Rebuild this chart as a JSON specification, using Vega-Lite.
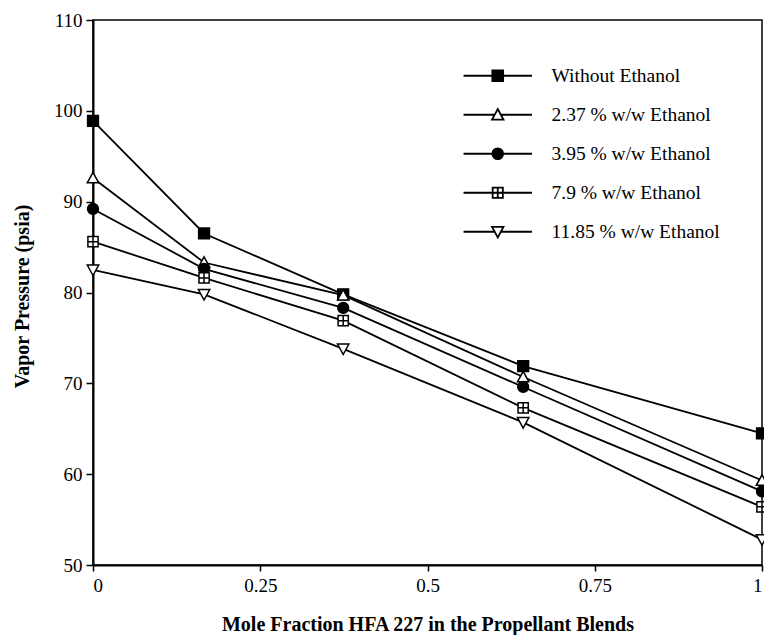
{
  "$schema": "https://vega.github.io/schema/vega-lite/v6.json",
  "width": 669,
  "height": 545,
  "autosize": {"type": "none"},
  "padding": {"left": 93, "top": 20, "right": 2, "bottom": 70},
  "background": "white",
  "config": {
    "font": "Liberation Serif",
    "view": {"stroke": "black", "strokeWidth": 1.5},
    "axis": {
      "domainColor": "black", "domainWidth": 2, "tickColor": "black", "tickWidth": 1.5,
      "grid": false, "labelFont": "Liberation Serif", "labelFontSize": 19, "labelColor": "black",
      "titleFont": "Liberation Serif", "titleFontSize": 20, "titleFontWeight": "bold", "titleColor": "black"
    }
  },
  "data": {"values": [
    {"series": "Without Ethanol", "x": 0, "y": 98.9},
    {"series": "Without Ethanol", "x": 0.166, "y": 86.5},
    {"series": "Without Ethanol", "x": 0.374, "y": 79.8},
    {"series": "Without Ethanol", "x": 0.643, "y": 71.9},
    {"series": "Without Ethanol", "x": 1, "y": 64.5},
    {"series": "2.37 % w/w Ethanol", "x": 0, "y": 92.6},
    {"series": "2.37 % w/w Ethanol", "x": 0.166, "y": 83.3},
    {"series": "2.37 % w/w Ethanol", "x": 0.374, "y": 79.7},
    {"series": "2.37 % w/w Ethanol", "x": 0.643, "y": 70.7},
    {"series": "2.37 % w/w Ethanol", "x": 1, "y": 59.3},
    {"series": "3.95 % w/w Ethanol", "x": 0, "y": 89.2},
    {"series": "3.95 % w/w Ethanol", "x": 0.166, "y": 82.6},
    {"series": "3.95 % w/w Ethanol", "x": 0.374, "y": 78.3},
    {"series": "3.95 % w/w Ethanol", "x": 0.643, "y": 69.6},
    {"series": "3.95 % w/w Ethanol", "x": 1, "y": 58.1},
    {"series": "7.9 % w/w Ethanol", "x": 0, "y": 85.6},
    {"series": "7.9 % w/w Ethanol", "x": 0.166, "y": 81.6},
    {"series": "7.9 % w/w Ethanol", "x": 0.374, "y": 76.9},
    {"series": "7.9 % w/w Ethanol", "x": 0.643, "y": 67.3},
    {"series": "7.9 % w/w Ethanol", "x": 1, "y": 56.4},
    {"series": "11.85 % w/w Ethanol", "x": 0, "y": 82.5},
    {"series": "11.85 % w/w Ethanol", "x": 0.166, "y": 79.8},
    {"series": "11.85 % w/w Ethanol", "x": 0.374, "y": 73.8},
    {"series": "11.85 % w/w Ethanol", "x": 0.643, "y": 65.7},
    {"series": "11.85 % w/w Ethanol", "x": 1, "y": 52.8}
  ]},
  "encoding": {
    "x": {"field": "x", "type": "quantitative",
      "scale": {"domain": [0, 1], "nice": false, "zero": false},
      "axis": {"values": [0, 0.25, 0.5, 0.75, 1], "format": ".2~f", "tickSize": 6, "labelPadding": 5,
        "title": "Mole Fraction HFA 227 in the Propellant Blends", "titleY": 59, "titleBaseline": "middle"}},
    "y": {"field": "y", "type": "quantitative",
      "scale": {"domain": [50, 110], "nice": false, "zero": false},
      "axis": {"values": [50, 60, 70, 80, 90, 100, 110], "tickSize": 7, "labelPadding": 4,
        "title": "Vapor Pressure (psia)", "titleX": -71, "titleY": 276, "titleBaseline": "middle"}}
  },
  "layer": [
    {"mark": {"type": "line", "color": "black", "strokeWidth": 1.8},
     "encoding": {"detail": {"field": "series"}}},
    {"mark": {"type": "point", "filled": true, "stroke": "black", "strokeWidth": 1.5, "size": 144, "opacity": 1},
     "encoding": {
       "shape": {"field": "series", "legend": null,
         "scale": {"domain": ["Without Ethanol", "2.37 % w/w Ethanol", "3.95 % w/w Ethanol", "7.9 % w/w Ethanol", "11.85 % w/w Ethanol"],
           "range": ["M-0.9,-0.9H0.9V0.9H-0.9Z", "M0,-0.95L0.95,0.8L-0.95,0.8Z", "M0.9,0A0.9,0.9,0,1,1,-0.9,0A0.9,0.9,0,1,1,0.9,0Z", "M-0.85,-0.85H0.85V0.85H-0.85ZM0,-0.85V0.85M-0.85,0H0.85", "M0,0.95L0.95,-0.8L-0.95,-0.8Z"]}},
       "fill": {"field": "series", "legend": null,
         "scale": {"domain": ["Without Ethanol", "2.37 % w/w Ethanol", "3.95 % w/w Ethanol", "7.9 % w/w Ethanol", "11.85 % w/w Ethanol"],
           "range": ["black", "white", "black", "white", "white"]}}
     }},
    {"mark": {"type": "point", "filled": true, "stroke": "black", "strokeWidth": 1.8, "size": 144, "opacity": 0},
     "encoding": {
       "shape": {"field": "series",
         "scale": {"domain": ["Without Ethanol", "2.37 % w/w Ethanol", "3.95 % w/w Ethanol", "7.9 % w/w Ethanol", "11.85 % w/w Ethanol"],
           "range": ["M-5.7,0H5.7M-0.9,-0.9H0.9V0.9H-0.9Z", "M-5.7,0H-0.45M0.45,0H5.7M0,-0.95L0.95,0.8L-0.95,0.8Z", "M-5.7,0H5.7M0.9,0A0.9,0.9,0,1,1,-0.9,0A0.9,0.9,0,1,1,0.9,0Z", "M-5.7,0H5.7M-0.85,-0.85H0.85V0.85H-0.85ZM0,-0.85V0.85", "M-5.7,0H-0.45M0.45,0H5.7M0,0.95L0.95,-0.8L-0.95,-0.8Z"]},
         "legend": {"title": null, "orient": "none", "legendX": 395, "legendY": 46, "padding": 0,
           "symbolSize": 144, "symbolStrokeWidth": 1.8, "symbolStrokeColor": "black", "symbolOpacity": 1,
           "labelFont": "Liberation Serif", "labelFontSize": 19.5, "labelColor": "black", "labelOffset": 44,
           "rowPadding": 18, "labelLimit": 300,
           "encode": {"symbols": {"update": {"stroke": {"value": "black"}, "strokeWidth": {"value": 1.8}, "opacity": {"value": 1}, "strokeOpacity": {"value": 1}}}}}},
       "fill": {"field": "series",
         "scale": {"domain": ["Without Ethanol", "2.37 % w/w Ethanol", "3.95 % w/w Ethanol", "7.9 % w/w Ethanol", "11.85 % w/w Ethanol"],
           "range": ["black", "white", "black", "white", "white"]},
         "legend": {"title": null, "orient": "none", "legendX": 395, "legendY": 46, "padding": 0,
           "symbolSize": 144, "symbolStrokeWidth": 1.8, "symbolStrokeColor": "black", "symbolOpacity": 1,
           "labelFont": "Liberation Serif", "labelFontSize": 19.5, "labelColor": "black", "labelOffset": 44,
           "rowPadding": 18, "labelLimit": 300,
           "encode": {"symbols": {"update": {"stroke": {"value": "black"}, "strokeWidth": {"value": 1.8}, "opacity": {"value": 1}, "strokeOpacity": {"value": 1}}}}}}
     }}
  ],
  "resolve": {"scale": {"shape": "independent", "fill": "independent"}}
}
